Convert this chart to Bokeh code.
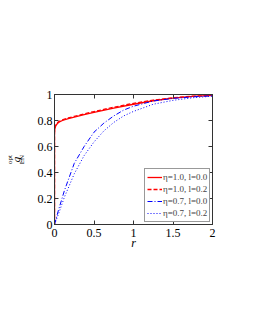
from bokeh.plotting import figure
from bokeh.models import LinearAxis, Legend, LegendItem, FixedTicker, Range1d
from bokeh.embed import file_html
from bokeh.resources import INLINE

# ---- data ----
r_red = [0.0, 0.0, 0.005, 0.02, 0.05, 0.1, 0.175, 0.25, 0.375, 0.5, 0.75, 1.0, 1.25, 1.5, 1.75, 2.0]
g_eta10_l00 = [0.0, 0.70, 0.74, 0.765, 0.785, 0.80, 0.815, 0.826, 0.845, 0.862, 0.895, 0.925, 0.952, 0.972, 0.985, 0.993]
g_eta10_l02 = [0.0, 0.71, 0.745, 0.77, 0.79, 0.805, 0.82, 0.832, 0.851, 0.869, 0.902, 0.932, 0.957, 0.975, 0.987, 0.994]

r_blue = [0.0, 0.05, 0.125, 0.25, 0.375, 0.5, 0.625, 0.75, 0.875, 1.0, 1.25, 1.5, 1.75, 2.0]
g_eta07_l00 = [0.0, 0.11, 0.26, 0.47, 0.60, 0.71, 0.78, 0.835, 0.88, 0.91, 0.95, 0.97, 0.982, 0.99]
g_eta07_l02 = [0.0, 0.08, 0.21, 0.39, 0.53, 0.635, 0.72, 0.785, 0.835, 0.87, 0.925, 0.955, 0.975, 0.987]

legend_labels = ["η=1.0, l=0.0", "η=1.0, l=0.2", "η=0.7, l=0.0", "η=0.7, l=0.2"]
x_ticks = [0, 0.5, 1, 1.5, 2]
x_tick_labels = ["0", "0.5", "1", "1.5", "2"]
y_ticks = [0, 0.2, 0.4, 0.6, 0.8, 1]
y_tick_labels = ["0", "0.2", "0.4", "0.6", "0.8", "1"]
ylabel_parts = ["g", "LN", "opt"]

FONT = "Liberation Serif"
AX = "#333333"

p = figure(output_backend="svg", toolbar_location=None,
           x_range=Range1d(0, 2), y_range=Range1d(0, 1),
           frame_width=158, frame_height=130,
           min_border_left=54, min_border_right=30, min_border_top=94, min_border_bottom=80,
           background_fill_color="white", border_fill_color="white")
p.xgrid.visible = False
p.ygrid.visible = False
p.outline_line_color = AX
p.below = []
p.left = []

def style(ax, labels=True):
    ax.major_tick_in = 4
    ax.major_tick_out = 0
    ax.minor_tick_in = 0
    ax.minor_tick_out = 0
    ax.axis_line_color = AX
    ax.major_tick_line_color = AX
    ax.major_label_text_font = FONT
    ax.major_label_text_font_size = "12px"
    ax.major_label_text_color = "black"
    if not labels:
        ax.major_label_text_font_size = "0px"
        ax.major_label_text_alpha = 0

xb = LinearAxis(ticker=FixedTicker(ticks=x_ticks),
                major_label_overrides={t: s for t, s in zip(x_ticks, x_tick_labels)})
style(xb)
xb.major_label_standoff = 4
xb.axis_label = "r"
xb.axis_label_text_font = FONT
xb.axis_label_text_font_style = "italic"
xb.axis_label_text_font_size = "12px"
xb.axis_label_text_color = "black"
xb.axis_label_standoff = -4
p.add_layout(xb, "below")

yl = LinearAxis(ticker=FixedTicker(ticks=y_ticks),
                major_label_overrides={t: s for t, s in zip(y_ticks, y_tick_labels)})
style(yl)
yl.major_label_standoff = 2
p.add_layout(yl, "left")

xt = LinearAxis(ticker=FixedTicker(ticks=x_ticks))
style(xt, labels=False)
p.add_layout(xt, "above")
yr = LinearAxis(ticker=FixedTicker(ticks=y_ticks))
style(yr, labels=False)
p.add_layout(yr, "right")

# y-axis label g_LN^opt: three label-only axes, each centred via its bounds
def label_axis(text, size, center, standoff, italic=False):
    ax = LinearAxis(ticker=FixedTicker(ticks=[]), bounds=(center - 0.005, center + 0.005))
    ax.axis_line_color = None
    ax.major_tick_line_color = None
    ax.minor_tick_line_color = None
    ax.major_tick_in = 0
    ax.major_tick_out = 0
    ax.minor_tick_in = 0
    ax.minor_tick_out = 0
    ax.major_label_text_font_size = "0px"
    ax.major_label_standoff = 0
    ax.axis_label = text
    ax.axis_label_text_font = FONT
    ax.axis_label_text_font_size = size
    ax.axis_label_text_color = "black"
    ax.axis_label_text_font_style = "italic" if italic else "normal"
    ax.axis_label_standoff = standoff
    p.add_layout(ax, "left")

label_axis(ylabel_parts[1], "7px", 0.598, 9)
label_axis(ylabel_parts[0], "11px", 0.554, -7, italic=True)
label_axis(ylabel_parts[2], "7px", 0.646, -7)

# curves
r1 = p.line(r_red, g_eta10_l00, line_color="#ff0000", line_width=1.3)
r2 = p.line(r_red, g_eta10_l02, line_color="#ff0000", line_width=1.3, line_dash="4 2")
b1 = p.line(r_blue, g_eta07_l00, line_color="#0000ff", line_width=1.0, line_dash="5 2 1 2")
b2 = p.line(r_blue, g_eta07_l02, line_color="#0000ff", line_width=1.0, line_dash="1 2")

legend = Legend(items=[LegendItem(label=legend_labels[0], renderers=[r1]),
                       LegendItem(label=legend_labels[1], renderers=[r2]),
                       LegendItem(label=legend_labels[2], renderers=[b1]),
                       LegendItem(label=legend_labels[3], renderers=[b2])],
                location=(90, 2))
legend.label_text_font = FONT
legend.label_text_font_size = "9px"
legend.label_height = 12
legend.glyph_height = 12
legend.glyph_width = 15
legend.label_standoff = 1
legend.spacing = 0
legend.padding = 2
legend.margin = 0
legend.border_line_color = AX
legend.border_line_width = 1
legend.background_fill_color = "white"
legend.background_fill_alpha = 1
p.add_layout(legend, "center")

open("out.html", "w").write(file_html(p, INLINE))
